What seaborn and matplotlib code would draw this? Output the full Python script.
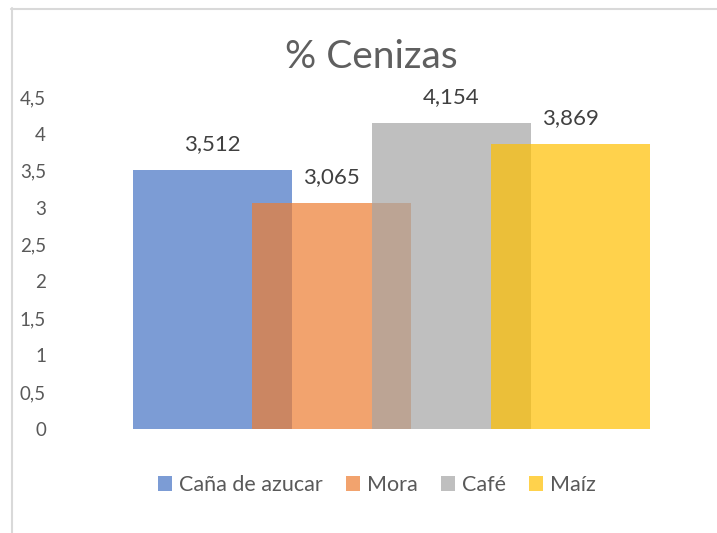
import matplotlib
matplotlib.use("Agg")
import matplotlib.pyplot as plt
import matplotlib.patches as mpatches
from matplotlib.lines import Line2D
import numpy as np
import pandas as pd
import seaborn as sns

# datos del grafico
series = ["Caña de azucar", "Mora", "Café", "Maíz"]
valores = [3.512, 3.065, 4.154, 3.869]
colores = ["#4472C4", "#ED7D31", "#A5A5A5", "#FFC000"]
yticks = [0, 0.5, 1, 1.5, 2, 2.5, 3, 3.5, 4, 4.5]
titulo = "% Cenizas"

sns.set_style("white")
plt.rcParams["font.family"] = ["Lato", "DejaVu Sans"]

W, H = 717, 533
fig = plt.figure(figsize=(W / 100, H / 100), dpi=100)
ax = fig.add_axes([55 / W, 1 - 429 / H, (705 - 55) / W, (429 - 97) / H])

df = pd.DataFrame({"pos": np.arange(len(series)), "valor": valores, "serie": series})
sns.barplot(data=df, x="pos", y="valor", hue="serie", hue_order=series,
            palette=colores, native_scale=True, dodge=False, width=1.33,
            alpha=0.7, saturation=1, errorbar=None, legend=False,
            linewidth=0, edgecolor="none", ax=ax)

# etiquetas de datos
for i, v in enumerate(valores):
    ax.annotate(f"{v:.3f}".replace(".", ","), (i, v), xytext=(0, 14),
                textcoords="offset points", ha="center", va="baseline",
                fontsize=16, color="#404040", annotation_clip=False)

ax.set_xlim(-1.318, 4.126)
ax.set_ylim(0, 4.5)
ax.set_yticks(yticks)
ax.set_yticklabels([f"{t:g}".replace(".", ",") for t in yticks])
ax.set_xticks([])
ax.set_xlabel("")
ax.set_ylabel("")
ax.tick_params(axis="y", left=False, pad=3, labelsize=13.5, labelcolor="#595959")
sns.despine(ax=ax, left=True, bottom=True)

fig.text(371 / W, 1 - 57 / H, titulo, ha="center", va="center",
         fontsize=28, color="#5f5f5f")

handles = [mpatches.Patch(facecolor=c, alpha=0.7, edgecolor="none") for c in colores]
fig.legend(handles, series, loc="center", bbox_to_anchor=(377 / W, 1 - 485 / H),
           ncol=4, frameon=False, handlelength=0.65, handleheight=0.65,
           handletextpad=0.3, columnspacing=1.1, fontsize=15.5,
           labelcolor="#595959")

# borde del area del grafico
fig.add_artist(Line2D([11 / W, 1], [1 - 8.5 / H, 1 - 8.5 / H], color="#D9D9D9", lw=1.5))
fig.add_artist(Line2D([11.5 / W, 11.5 / W], [0, 1 - 8 / H], color="#D9D9D9", lw=1.5))

fig.savefig("out.png", dpi=100)
